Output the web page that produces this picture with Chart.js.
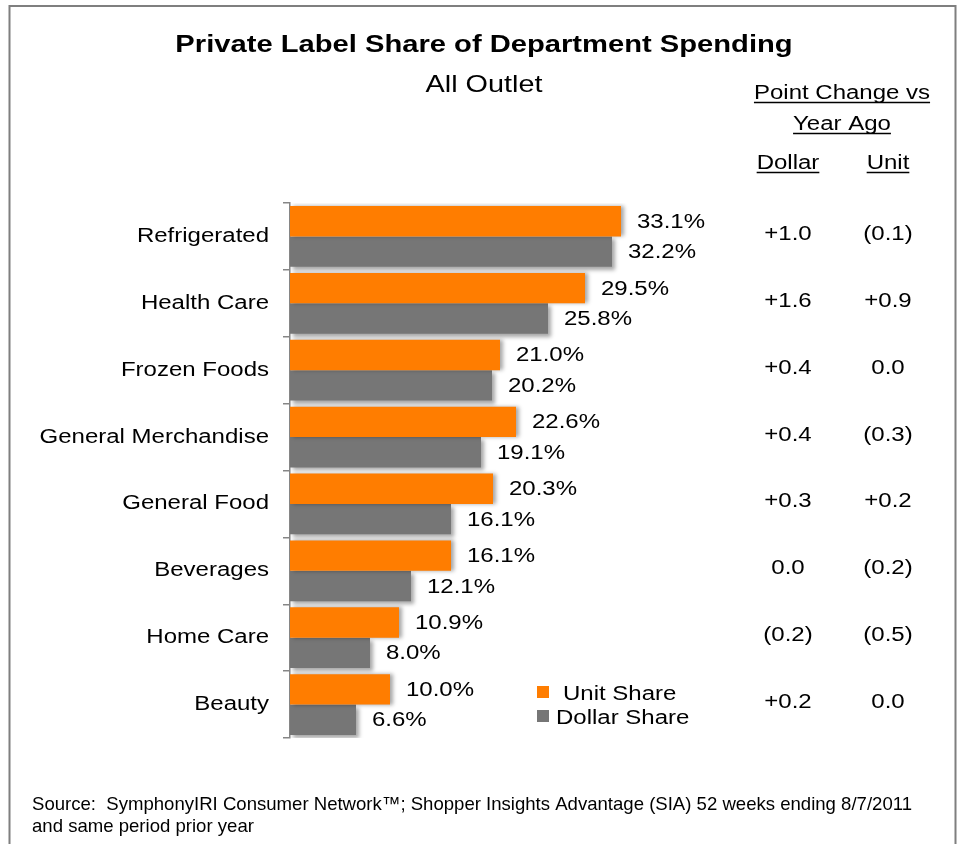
<!DOCTYPE html>
<html>
<head>
<meta charset="utf-8">
<title>Private Label Share of Department Spending</title>
<script src="https://cdn.jsdelivr.net/npm/chart.js@4.4.1/dist/chart.umd.min.js"></script>
<style>
  html, body { margin: 0; padding: 0; background: #fff; }
  #wrap { width: 961px; height: 844px; }
</style>
</head>
<body>
<div id="wrap"><canvas id="main-chart" width="961" height="844"></canvas></div>
<script>
// ---- Data ----
const categories = ['Refrigerated', 'Health Care', 'Frozen Foods', 'General Merchandise', 'General Food', 'Beverages', 'Home Care', 'Beauty'];
const unitShare = [33.1, 29.5, 21.0, 22.6, 20.3, 16.1, 10.9, 10.0];
const dollarShare = [32.2, 25.8, 20.2, 19.1, 16.1, 12.1, 8.0, 6.6];
const dollarChange = ['+1.0', '+1.6', '+0.4', '+0.4', '+0.3', '0.0', '(0.2)', '+0.2'];
const unitChange = ['(0.1)', '+0.9', '0.0', '(0.3)', '+0.2', '(0.2)', '(0.5)', '0.0'];

const ORANGE = '#FF7D00';
const GREY = '#767676';
const FONT = '"Liberation Sans", Arial, sans-serif';
const SX = 1.2; // the original slide is a bit wider than tall

// ---- Text helpers ----
function drawText(ctx, text, x, y, size, opts = {}) {
  const { align = 'left', bold = false, sx = SX, baseline = 'alphabetic', underline = false } = opts;
  ctx.save();
  ctx.font = (bold ? 'bold ' : '') + size + 'px ' + FONT;
  ctx.fillStyle = '#000';
  ctx.textAlign = align;
  ctx.textBaseline = baseline;
  const w = ctx.measureText(text).width * sx;
  ctx.translate(x, y);
  ctx.scale(sx, 1);
  ctx.fillText(text, 0, 0);
  ctx.restore();
  if (underline) {
    let x0 = x;
    if (align === 'center') x0 = x - w / 2;
    else if (align === 'right') x0 = x - w;
    ctx.save();
    ctx.strokeStyle = '#000';
    ctx.lineWidth = 1.5;
    ctx.beginPath();
    ctx.moveTo(x0, y + 3.5);
    ctx.lineTo(x0 + w, y + 3.5);
    ctx.stroke();
    ctx.restore();
  }
  return w;
}

// ---- Plugins ----
const framePlugin = {
  id: 'frame',
  beforeDraw(chart) {
    const ctx = chart.ctx;
    ctx.save();
    ctx.fillStyle = '#fff';
    ctx.fillRect(0, 0, chart.width, chart.height);
    ctx.strokeStyle = '#7f7f7f';
    ctx.lineWidth = 2;
    ctx.beginPath();
    ctx.moveTo(9.5, 844);
    ctx.lineTo(9.5, 6);
    ctx.lineTo(955.5, 6);
    ctx.lineTo(955.5, 844);
    ctx.stroke();
    ctx.restore();
  }
};

const shadowPlugin = {
  id: 'barShadow',
  beforeDatasetDraw(chart, args) {
    const ctx = chart.ctx;
    ctx.save();
    ctx.shadowColor = 'rgba(0,0,0,0.35)';
    ctx.shadowBlur = 4;
    ctx.shadowOffsetX = 3;
    ctx.shadowOffsetY = args.index === 0 ? 0 : 3;
  },
  afterDatasetDraw(chart) {
    chart.ctx.restore();
  }
};

const textPlugin = {
  id: 'texts',
  afterDraw(chart) {
    const ctx = chart.ctx;
    const yScale = chart.scales.y;

    // titles
    drawText(ctx, 'Private Label Share of Department Spending', 484, 52, 24.3, { align: 'center', bold: true });
    drawText(ctx, 'All Outlet', 484, 92, 24, { align: 'center' });

    // table header
    drawText(ctx, 'Point Change vs', 842, 99, 20, { align: 'center', underline: true });
    drawText(ctx, 'Year Ago', 842, 130, 20, { align: 'center', underline: true });
    drawText(ctx, 'Dollar', 788, 169, 20, { align: 'center', underline: true });
    drawText(ctx, 'Unit', 888, 169, 20, { align: 'center', underline: true });

    // category labels + table values
    categories.forEach((c, i) => {
      const y = yScale.getPixelForValue(i);
      drawText(ctx, c, 269, y, 20, { align: 'right', baseline: 'middle' });
      drawText(ctx, dollarChange[i], 788, y - 2, 20, { align: 'center', baseline: 'middle' });
      drawText(ctx, unitChange[i], 888, y - 2, 20, { align: 'center', baseline: 'middle' });
    });

    // bar value labels
    chart.data.datasets.forEach((ds, di) => {
      const meta = chart.getDatasetMeta(di);
      meta.data.forEach((bar, i) => {
        drawText(ctx, ds.data[i].toFixed(1) + '%', bar.x + 16, bar.y + 1, 20, { baseline: 'middle' });
      });
    });

    // legend
    ctx.save();
    ctx.fillStyle = ORANGE;
    ctx.fillRect(537, 686, 12, 12);
    ctx.fillStyle = GREY;
    ctx.fillRect(537, 710, 12, 12);
    ctx.restore();
    drawText(ctx, 'Unit Share', 563, 700, 20);
    drawText(ctx, 'Dollar Share', 556, 724, 20);

    // source note (condensed, as in the slide)
    const line1 = 'Source:  SymphonyIRI Consumer Network\u2122; Shopper Insights Advantage (SIA) 52 weeks ending 8/7/2011';
    ctx.save();
    ctx.font = '19px ' + FONT;
    const sx = 880 / ctx.measureText(line1).width;
    ctx.restore();
    drawText(ctx, line1, 32, 810, 19, { sx });
    drawText(ctx, 'and same period prior year', 32, 832, 19, { sx });
  }
};

// ---- Chart ----
function buildChart() {
  const ctx = document.getElementById('main-chart').getContext('2d');
  return new Chart(ctx, {
    type: 'bar',
    data: {
      labels: categories,
      datasets: [
        {
          label: 'Unit Share',
          data: unitShare,
          backgroundColor: ORANGE,
          categoryPercentage: 0.91,
          barPercentage: 1.0
        },
        {
          label: 'Dollar Share',
          data: dollarShare,
          backgroundColor: GREY,
          categoryPercentage: 0.91,
          barPercentage: 1.0
        }
      ]
    },
    options: {
      indexAxis: 'y',
      responsive: false,
      animation: false,
      layout: { padding: { left: 0, right: 271, top: 203, bottom: 106 } },
      scales: {
        x: { display: false, min: 0, max: 40 },
        y: {
          afterFit: (scale) => { scale.width = 290; },
          grid: { drawOnChartArea: false, tickLength: 7, color: '#868686', lineWidth: 1.5, offset: true },
          border: { color: '#868686', width: 1.5 },
          ticks: { display: false }
        }
      },
      plugins: {
        legend: { display: false },
        tooltip: { enabled: false }
      }
    },
    plugins: [framePlugin, shadowPlugin, textPlugin]
  });
}

document.addEventListener('DOMContentLoaded', buildChart);
</script>
</body>
</html>
